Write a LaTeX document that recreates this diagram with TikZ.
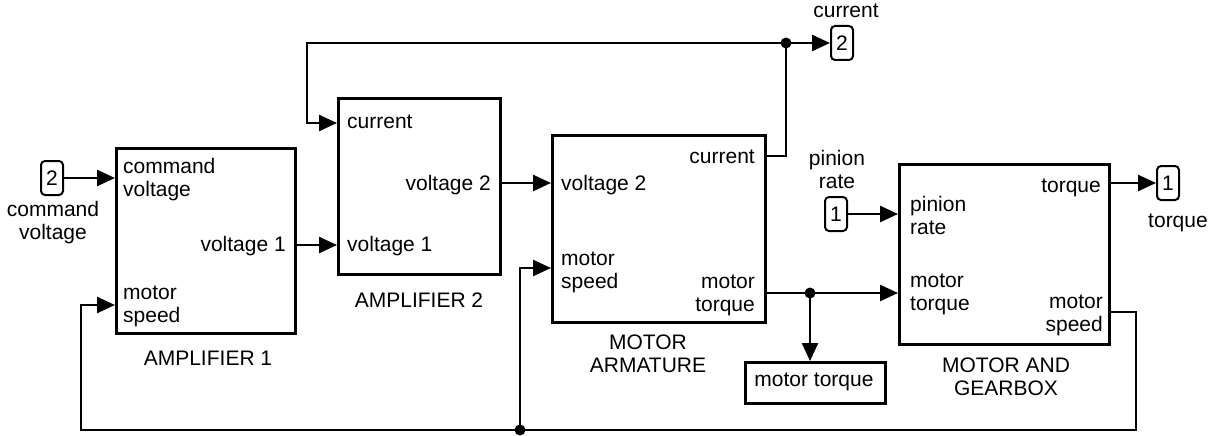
\documentclass[tikz,border=0pt]{standalone}
\usepackage{fontspec}
\setmainfont{Liberation Sans}
\usetikzlibrary{arrows.meta}
\tikzset{
  block/.style ={rectangle, draw, line width=2.6pt, anchor=north west, inner sep=0pt},
  port/.style ={rectangle, rounded corners=4pt, draw, line width=2pt, minimum width=22pt,
                minimum height=34pt, inner sep=0pt, font=\fontsize{21}{23}\selectfont},
  txt/.style ={inner sep=0pt, font=\fontsize{21}{23}\selectfont},
  wire/.style ={line width=2.5pt},
  sig/.style ={wire, -{Triangle[length=18pt,width=16pt]}},
}

\begin{document}
\begin{tikzpicture}[x=1pt,y=-1pt]
\useasboundingbox (0,0) rectangle (1221,436);
% blocks
\node[block, minimum width=179, minimum height=185] (amp1) at (115,147) {};
\node[block, minimum width=162, minimum height=176] (amp2) at (337,97) {};
\node[block, minimum width=213, minimum height=187] (arm) at (551,134) {};
\node[block, minimum width=210, minimum height=180] (gear) at (898,163) {};
\node[block, minimum width=140, minimum height=41] (tqbox) at (744,361) {};
\node[txt] (tqtxt) at (814,382) {motor torque};
% block ports
\node[txt, anchor=base west, align=left] (a1cmd) at (123,196) {command\\voltage};
\node[txt, anchor=base east] (a1out) at (286,251) {voltage 1};
\node[txt, anchor=base west, align=left] (a1spd) at (123,322) {motor\\speed};
\node[txt, anchor=base west] (a2cur) at (347,128) {current};
\node[txt, anchor=base east] (a2out) at (491,190) {voltage 2};
\node[txt, anchor=base west] (a2in) at (347,251) {voltage 1};
\node[txt, anchor=base east] (ar_cur) at (755,163) {current};
\node[txt, anchor=base west] (ar_in) at (561,190) {voltage 2};
\node[txt, anchor=base west, align=left] (ar_spd) at (561,288) {motor\\speed};
\node[txt, anchor=base east, align=right] (ar_tq) at (755,311) {motor\\torque};
\node[txt, anchor=base east] (gb_tq) at (1101,192) {torque};
\node[txt, anchor=base west, align=left] (gb_pin) at (910,234) {pinion\\rate};
\node[txt, anchor=base west, align=left] (gb_mt) at (910,310) {motor\\torque};
\node[txt, anchor=base east, align=right] (gb_spd) at (1103,331) {motor\\speed};
% block names
\node[txt, anchor=base] (n1) at (208,365) {AMPLIFIER 1};
\node[txt, anchor=base] (n2) at (419,307) {AMPLIFIER 2};
\node[txt, anchor=base, align=center] (n3) at (648,372) {MOTOR\\ARMATURE};
\node[txt, anchor=base, align=center] (n4) at (1006,395) {MOTOR AND\\GEARBOX};
% in/out ports
\node[port] (pcmd) at (52,178) {2};
\node[txt, anchor=base, align=center] (pcmdl) at (53,239) {command\\voltage};
\node[port] (pcur) at (842,43) {2};
\node[txt, anchor=base] (pcurl) at (846,18) {current};
\node[port] (ppin) at (836,214) {1};
\node[txt, anchor=base, align=center] (ppinl) at (837,188) {pinion\\rate};
\node[port] (ptq) at (1168,183) {1};
\node[txt, anchor=base] (ptql) at (1178,227) {torque};
% junctions and bends
\coordinate (jc) at (786,43);
\coordinate (ctop) at (307,43);
\coordinate (jt) at (810,293);
\coordinate (jb) at (520,430);
\coordinate (fbr) at (1136,430);
\coordinate (fbl) at (81,430);
\coordinate (v1) at (0,245);
\coordinate (v2) at (0,183);
\coordinate (ci) at (0,123);
\coordinate (co) at (0,156);
\coordinate (ms1) at (0,305);
\coordinate (ms2) at (0,268);
\coordinate (ms3) at (0,312);
% connectors
\draw[sig] (pcmd) -- (amp1.west |- pcmd);
\draw[sig] (amp1.east |- v1) -- (amp2.west |- v1);
\draw[sig] (amp2.east |- v2) -- (arm.west |- v2);
\draw[wire] (arm.east |- co) -| (jc);
\draw[sig] (jc) -- (pcur);
\draw[sig] (jc) -- (ctop) |- (amp2.west |- ci);
\draw[wire] (arm.east |- jt) -- (jt);
\draw[sig] (jt) -- (gear.west |- jt);
\draw[sig] (jt) -- (jt |- tqbox.north);
\draw[sig] (ppin) -- (gear.west |- ppin);
\draw[sig] (gear.east |- ptq) -- (ptq);
\draw[sig] (gear.east |- ms3) -| (fbr) -- (fbl) |- (amp1.west |- ms1);
\draw[sig] (jb) |- (arm.west |- ms2);
\foreach \j in {jc,jt,jb} \fill (\j) circle (5.5);
\end{tikzpicture}
\end{document}
